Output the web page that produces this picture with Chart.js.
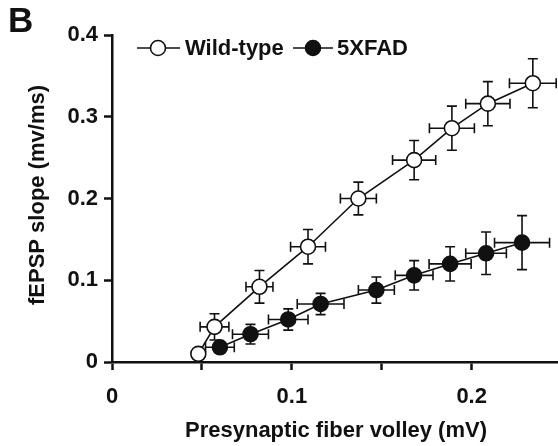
<!DOCTYPE html>
<html>
<head>
<meta charset="utf-8">
<script src="https://cdn.jsdelivr.net/npm/chart.js@4.4.1/dist/chart.umd.min.js"></script>
<style>
  html, body { margin: 0; padding: 0; background: #fff; }
  #wrap { width: 558px; height: 446px; position: relative; }
</style>
</head>
<body>
<div id="wrap"><canvas id="c" width="558" height="446"></canvas></div>
<script>
// Input/output curves: presynaptic fiber volley (mV) vs fEPSP slope (mv/ms), mean ± SEM
const seriesNames = ['Wild-type', '5XFAD'];

const wtVolley   = [0.048, 0.057, 0.082, 0.109, 0.137, 0.168, 0.189, 0.209, 0.234];
const wtSlope    = [0.010, 0.043, 0.092, 0.141, 0.200, 0.247, 0.286, 0.316, 0.341];
const wtVolleyErr = [0.003, 0.008, 0.0075, 0.0097, 0.010, 0.012, 0.0125, 0.0123, 0.013];
const wtSlopeErr  = [0.003, 0.016, 0.020, 0.021, 0.020, 0.024, 0.027, 0.027, 0.030];

const fadVolley   = [0.060, 0.077, 0.098, 0.116, 0.147, 0.168, 0.188, 0.208, 0.228];
const fadSlope    = [0.018, 0.034, 0.052, 0.071, 0.088, 0.106, 0.120, 0.133, 0.146];
const fadVolleyErr = [0.008, 0.010, 0.011, 0.013, 0.010, 0.0105, 0.0117, 0.0113, 0.0153];
const fadSlopeErr  = [0.006, 0.012, 0.013, 0.013, 0.016, 0.018, 0.021, 0.026, 0.033];

const xTickValues = [0, 0.05, 0.1, 0.15, 0.2];
const xTickLabels = ['0', '', '0.1', '', '0.2'];
const yTickValues = [0, 0.1, 0.2, 0.3, 0.4];
const yTickLabels = ['0', '0.1', '0.2', '0.3', '0.4'];

const xTitle = 'Presynaptic fiber volley (mV)';
const yTitle = 'fEPSP slope (mv/ms)';
const panelLetter = 'B';

const FONT = '"Liberation Sans", Arial, sans-serif';

function toPoints(xs, ys, xe, ye) {
  return xs.map((x, i) => ({ x: x, y: ys[i], xErr: xe[i], yErr: ye[i] }));
}

// Crosshair error bars (x and y) drawn beneath the markers
const errorBars = {
  id: 'errorBars',
  beforeDatasetsDraw(chart) {
    const { ctx, scales: { x, y } } = chart;
    ctx.save();
    ctx.strokeStyle = '#111';
    ctx.lineWidth = 1.6;
    const cap = 5;
    chart.data.datasets.forEach(ds => {
      ds.data.forEach(p => {
        const px = x.getPixelForValue(p.x);
        const py = y.getPixelForValue(p.y);
        const x0 = x.getPixelForValue(p.x - p.xErr);
        const x1 = x.getPixelForValue(p.x + p.xErr);
        const y0 = y.getPixelForValue(p.y - p.yErr);
        const y1 = y.getPixelForValue(p.y + p.yErr);
        ctx.beginPath();
        ctx.moveTo(x0, py); ctx.lineTo(x1, py);
        ctx.moveTo(x0, py - cap); ctx.lineTo(x0, py + cap);
        ctx.moveTo(x1, py - cap); ctx.lineTo(x1, py + cap);
        ctx.moveTo(px, y0); ctx.lineTo(px, y1);
        ctx.moveTo(px - cap, y0); ctx.lineTo(px + cap, y0);
        ctx.moveTo(px - cap, y1); ctx.lineTo(px + cap, y1);
        ctx.stroke();
      });
    });
    ctx.restore();
  }
};

// Panel letter, axis titles and inline legend
const decorations = {
  id: 'decorations',
  afterDraw(chart) {
    const { ctx } = chart;
    ctx.save();
    ctx.fillStyle = '#111';

    ctx.font = 'bold 35px ' + FONT;
    ctx.textAlign = 'left';
    ctx.textBaseline = 'middle';
    ctx.fillText(panelLetter, 8, 22);

    ctx.font = 'bold 22px ' + FONT;
    ctx.textAlign = 'center';
    ctx.textBaseline = 'middle';
    ctx.fillText(xTitle, 336, 431);

    ctx.save();
    ctx.translate(38, 195);
    ctx.rotate(-Math.PI / 2);
    ctx.fillText(yTitle, 0, 0);
    ctx.restore();

    // legend entries: short line through the marker, then the name
    const entries = [
      { x0: 137, x1: 180, mx: 158, tx: 185, ds: chart.data.datasets[0] },
      { x0: 293, x1: 333, mx: 313, tx: 337, ds: chart.data.datasets[1] }
    ];
    const ly = 48;
    entries.forEach(e => {
      ctx.strokeStyle = '#111';
      ctx.lineWidth = 1.6;
      ctx.beginPath();
      ctx.moveTo(e.x0, ly); ctx.lineTo(e.x1, ly);
      ctx.stroke();
      ctx.beginPath();
      ctx.arc(e.mx, ly, 7.5, 0, Math.PI * 2);
      ctx.fillStyle = e.ds.pointBackgroundColor;
      ctx.fill();
      ctx.stroke();
      ctx.fillStyle = '#111';
      ctx.font = 'bold 22px ' + FONT;
      ctx.textAlign = 'left';
      ctx.textBaseline = 'middle';
      ctx.fillText(e.ds.label, e.tx, ly + 1);
    });
    ctx.restore();
  }
};

const axisCommon = {
  border: { display: true, color: '#111', width: 2.5 },
  grid: {
    drawOnChartArea: false,
    drawTicks: true,
    tickLength: 8,
    tickWidth: 2.5,
    tickColor: '#111',
    color: '#111'
  }
};

new Chart(document.getElementById('c'), {
  type: 'scatter',
  data: {
    datasets: [
      {
        label: seriesNames[0],
        data: toPoints(wtVolley, wtSlope, wtVolleyErr, wtSlopeErr),
        showLine: true,
        borderColor: '#111',
        borderWidth: 1.6,
        pointRadius: 7.5,
        pointHoverRadius: 7.5,
        pointBorderWidth: 1.6,
        pointBorderColor: '#111',
        pointBackgroundColor: '#ffffff',
        clip: false,
        order: 1
      },
      {
        label: seriesNames[1],
        data: toPoints(fadVolley, fadSlope, fadVolleyErr, fadSlopeErr),
        showLine: true,
        borderColor: '#111',
        borderWidth: 1.6,
        pointRadius: 7.5,
        pointHoverRadius: 7.5,
        pointBorderWidth: 1.6,
        pointBorderColor: '#111',
        pointBackgroundColor: '#111111',
        clip: false,
        order: 0
      }
    ]
  },
  options: {
    responsive: false,
    animation: false,
    events: [],
    layout: { autoPadding: false, padding: { top: 35, right: 0, left: 0, bottom: 0 } },
    plugins: { legend: { display: false }, tooltip: { enabled: false } },
    scales: {
      x: Object.assign({}, axisCommon, {
        type: 'linear',
        min: 0,
        max: 0.248,
        afterBuildTicks: s => { s.ticks = xTickValues.map(v => ({ value: v })); },
        afterFit: s => { s.height = 84; },
        ticks: {
          color: '#111',
          font: { family: FONT, size: 22, weight: 'bold' },
          padding: 14,
          maxRotation: 0,
          autoSkip: false,
          callback: (v, i) => xTickLabels[i]
        }
      }),
      y: Object.assign({}, axisCommon, {
        type: 'linear',
        min: 0,
        max: 0.4,
        afterBuildTicks: s => { s.ticks = yTickValues.map(v => ({ value: v })); },
        afterFit: s => { s.width = 112; },
        ticks: {
          color: '#111',
          font: { family: FONT, size: 22, weight: 'bold' },
          padding: 6,
          autoSkip: false,
          callback: (v, i) => yTickLabels[i]
        }
      })
    }
  },
  plugins: [errorBars, decorations]
});
</script>
</body>
</html>
